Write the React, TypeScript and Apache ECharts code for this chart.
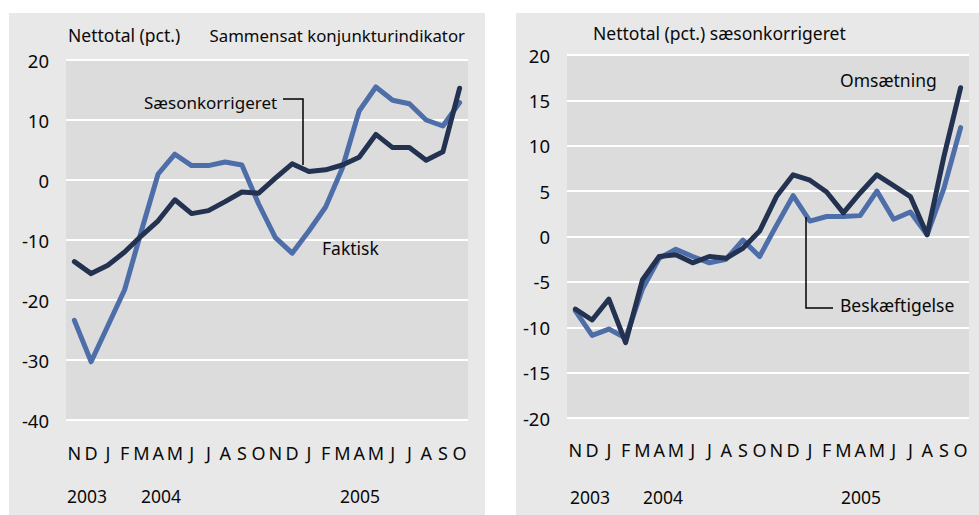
import React, { useEffect, useRef } from "react";
import * as echarts from "echarts";

const months = ["N", "D", "J", "F", "M", "A", "M", "J", "J", "A", "S", "O", "N", "D", "J", "F", "M", "A", "M", "J", "J", "A", "S", "O"];
const years = ["2003", "2004", "2005"];

// Left panel: Sammensat konjunkturindikator
const faktisk = [-23.4, -30.3, -24.3, -18.3, -8.5, 1.0, 4.3, 2.4, 2.4, 3.0, 2.5, -4.0, -9.6, -12.2, -8.5, -4.5, 2.0, 11.5, 15.5, 13.3, 12.7, 10.0, 9.0, 12.9];
const saeson = [-13.6, -15.6, -14.2, -12.0, -9.3, -6.8, -3.3, -5.6, -5.1, -3.6, -2.0, -2.2, 0.3, 2.7, 1.4, 1.7, 2.5, 3.8, 7.6, 5.4, 5.4, 3.3, 4.7, 15.3];

// Right panel: sæsonkorrigeret
const omsaetning = [-8.0, -9.2, -6.9, -11.7, -4.8, -2.2, -2.0, -2.9, -2.2, -2.4, -1.3, 0.6, 4.4, 6.8, 6.2, 4.9, 2.6, 4.8, 6.8, 5.6, 4.4, 0.2, 8.8, 16.4];
const beskaeftigelse = [-8.2, -10.9, -10.2, -11.2, -5.8, -2.4, -1.4, -2.2, -2.9, -2.5, -0.4, -2.2, 1.2, 4.5, 1.7, 2.2, 2.2, 2.3, 5.0, 1.9, 2.7, 0.2, 5.3, 12.0];

const BLUE = "#4d6ea8";
const DARK = "#233250";
const TXT = "#0a0a0a";
const FONT = "Noto Sans";
const FS = 17.5;

export default function App() {
  const ref = useRef<HTMLDivElement>(null);
  useEffect(() => {
    if (!ref.current) return;
    const chart = echarts.init(ref.current, undefined, { renderer: "svg" });
    const grids = [
      { left: 66, top: 60, width: 402, height: 360 },
      { left: 567, top: 55, width: 402, height: 363 },
    ];
    const xAxis = grids.map((_, i) => ({
      type: "category" as const,
      gridIndex: i,
      data: months,
      boundaryGap: true,
      axisLine: { show: false },
      axisTick: { show: false },
      splitLine: { show: false },
      axisLabel: { interval: 0, color: TXT, fontSize: 18, fontFamily: FONT, margin: i === 0 ? 24 : 23 },
    }));
    const yAxis = [
      { min: -40, max: 20, interval: 10 },
      { min: -20, max: 20, interval: 5 },
    ].map((a, i) => ({
      type: "value" as const,
      gridIndex: i,
      ...a,
      axisLine: { show: false },
      axisTick: { show: false },
      splitLine: { show: true, lineStyle: { color: "#ffffff", width: 2 } },
      axisLabel: { color: TXT, fontSize: 18.5, fontFamily: FONT, margin: 17 },
    }));
    const line = (data: number[], color: string, xi: number, name: string) => ({
      type: "line" as const,
      name,
      xAxisIndex: xi,
      yAxisIndex: xi,
      data,
      showSymbol: false,
      symbol: "none",
      lineStyle: { color, width: 5, join: "round", cap: "round" },
      z: 3,
    });
    const txt = (x: number, y: number, text: string, align = "left", fs = FS) => ({
      type: "text",
      x,
      y,
      z: 10,
      style: { text, fill: TXT, fontSize: fs, fontFamily: FONT, align, verticalAlign: "middle" },
    });
    chart.setOption({
      animation: false,
      backgroundColor: "#ffffff",
      grid: grids.map((g) => ({ ...g, show: true, backgroundColor: "#dcdcdc", borderWidth: 0, containLabel: false })),
      xAxis,
      yAxis,
      series: [
        line(faktisk, BLUE, 0, "Faktisk"),
        line(saeson, DARK, 0, "Sæsonkorrigeret"),
        line(beskaeftigelse, BLUE, 1, "Beskæftigelse"),
        line(omsaetning, DARK, 1, "Omsætning"),
      ],
      graphic: [
        { type: "rect", shape: { x: 9, y: 13, width: 476, height: 502 }, style: { fill: "#e8e8e8" }, z: -10, silent: true },
        { type: "rect", shape: { x: 516, y: 13, width: 463, height: 502 }, style: { fill: "#e8e8e8" }, z: -10, silent: true },
        txt(68, 35, "Nettotal (pct.)"),
        txt(465, 35, "Sammensat konjunkturindikator", "right", 16.8),
        txt(593, 33, "Nettotal (pct.) sæsonkorrigeret"),
        txt(87, 496, years[0], "center"),
        txt(161, 496, years[1], "center"),
        txt(360, 496, years[2], "center"),
        txt(590, 497, years[0], "center"),
        txt(663, 497, years[1], "center"),
        txt(861, 497, years[2], "center"),
        txt(144, 102, "Sæsonkorrigeret", "left", 17),
        txt(322, 248, "Faktisk"),
        txt(840, 80, "Omsætning"),
        txt(840, 305, "Beskæftigelse"),
        { type: "polyline", z: 10, shape: { points: [[283, 99], [303, 99], [303, 165]] }, style: { stroke: "#000", lineWidth: 1.5, fill: null } },
        { type: "polyline", z: 10, shape: { points: [[806, 217], [806, 308], [833, 308]] }, style: { stroke: "#000", lineWidth: 1.5, fill: null } },
      ],
    });
    return () => chart.dispose();
  }, []);
  return <div ref={ref} style={{ position: "absolute", left: 0, top: 0, width: 979, height: 515 }} />;
}
